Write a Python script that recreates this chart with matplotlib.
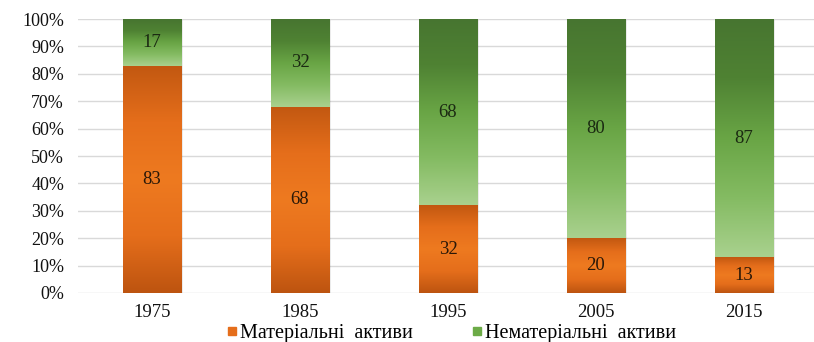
import numpy as np
import matplotlib.pyplot as plt
from matplotlib.colors import LinearSegmentedColormap
from matplotlib.lines import Line2D

plt.rcParams['font.family'] = ['Liberation Serif', 'DejaVu Serif']

years = ['1975', '1985', '1995', '2005', '2015']
tangible = [83, 68, 32, 20, 13]
intangible = [17, 32, 68, 80, 87]
names = ['Матеріальні  активи', 'Нематеріальні  активи']

# gradient colormaps: index 0 = bottom of bar, 1 = top
orange_cm = LinearSegmentedColormap.from_list(
    'orange', ['#bd5410', '#e56e1b', '#ee7a20', '#e56e1b', '#c25811'])
green_cm = LinearSegmentedColormap.from_list(
    'green', ['#a9d18e', '#84bb62', '#69a545', '#4f8233', '#477530'])

fig = plt.figure(figsize=(8.14, 3.42), dpi=100)
ax = fig.add_axes([0.0958, 0.1433, 0.909, 0.8011])

x = np.arange(len(years))
w = 0.395
grad = np.linspace(0, 1, 256).reshape(-1, 1)


def gradient_bars(xs, heights, bottoms, cmap):
    bars = ax.bar(xs, heights, w, bottom=bottoms, color='none',
                  edgecolor='none', zorder=3)
    for b in bars:
        x0, y0 = b.get_x(), b.get_y()
        h = b.get_height()
        # soft shadow on the right
        ax.add_patch(plt.Rectangle((x0 + 0.012, y0 - 0.4), w, h, color='#000000',
                                   alpha=0.08, zorder=2, lw=0))
        im = ax.imshow(grad, cmap=cmap, origin='lower', aspect='auto',
                       extent=(x0, x0 + w, y0, y0 + h), zorder=3)
        im.set_clip_path(b)
    return bars


gradient_bars(x, tangible, 0, orange_cm)
gradient_bars(x, intangible, tangible, green_cm)

for i in range(len(years)):
    ax.text(x[i], tangible[i] / 2, str(tangible[i]), ha='center', va='center',
            fontsize=13.5, color='#2a1808', zorder=5)
    ax.text(x[i], tangible[i] + intangible[i] / 2, str(intangible[i]),
            ha='center', va='center', fontsize=13.5, color='#1b2a12', zorder=5)

ax.set_xlim(-0.5, 4.5)
ax.set_ylim(0, 100)
ax.set_yticks(range(0, 101, 10))
ax.set_yticklabels([f'{v}%' for v in range(0, 101, 10)], fontsize=13)
ax.set_xticks(x)
ax.set_xticklabels(years, fontsize=13.5)
ax.grid(axis='y', color='#d9d9d9', lw=1, zorder=0)
ax.set_axisbelow(True)
for s in ax.spines.values():
    s.set_visible(False)
ax.tick_params(length=0, pad=10, colors='#111111')
ax.tick_params(axis='x', pad=8)

handles = [Line2D([], [], marker='s', ls='none', color='#e56e1b', markersize=6),
           Line2D([], [], marker='s', ls='none', color='#6cab47', markersize=6)]
fig.legend(handles, names, loc='center', bbox_to_anchor=(0.553, 0.024), ncol=2,
           frameon=False, fontsize=14.5, handletextpad=0.0, columnspacing=2.8,
           handlelength=0.8)

fig.savefig('out.png', dpi=100)
